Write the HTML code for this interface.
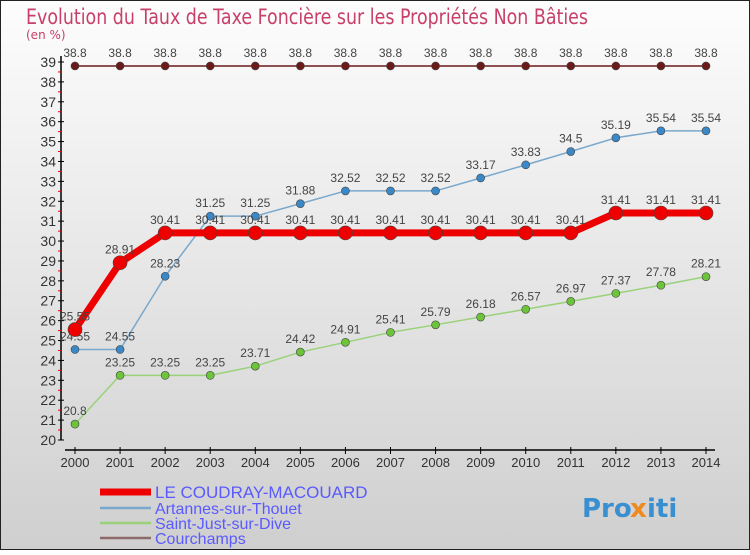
<!DOCTYPE html>
<html><head><meta charset="utf-8"><style>
body{margin:0}
svg text{font-family:"DejaVu Sans","Liberation Sans",sans-serif}
</style></head><body>
<svg id="c" width="750" height="550" xmlns="http://www.w3.org/2000/svg">
<defs><linearGradient id="bg" x1="0" y1="0" x2="0" y2="1"><stop offset="0" stop-color="#fdfdfd"/><stop offset="1" stop-color="#cfcfcf"/></linearGradient></defs>
<rect x="0.5" y="0.5" width="749" height="549" fill="url(#bg)" stroke="#222"/>
<text x="26" y="24" font-size="21" fill="#c8406a" textLength="562" lengthAdjust="spacingAndGlyphs">Evolution du Taux de Taxe Foncière sur les Propriétés Non Bâties</text>
<text x="26" y="39" font-size="12" fill="#c8406a">(en %)</text>
<g id="axes"></g>
<g id="series"></g>
<g style="font-family:'Liberation Sans',sans-serif">
<line x1="100" y1="492" x2="151" y2="492" stroke="#e00" stroke-width="7"/>
<text x="155" y="498" font-size="17" fill="#5a5aff" style="font-family:'Liberation Sans',sans-serif">LE COUDRAY-MACOUARD</text>
<line x1="100" y1="508" x2="151" y2="508" stroke="#7aa8cc" stroke-width="2.5"/>
<text x="155" y="514" font-size="16" fill="#5a5aff" style="font-family:'Liberation Sans',sans-serif">Artannes-sur-Thouet</text>
<line x1="100" y1="523" x2="151" y2="523" stroke="#99d27a" stroke-width="2.5"/>
<text x="155" y="529" font-size="16" fill="#5a5aff" style="font-family:'Liberation Sans',sans-serif">Saint-Just-sur-Dive</text>
<line x1="100" y1="538" x2="151" y2="538" stroke="#8e6a6a" stroke-width="2.5"/>
<text x="155" y="544" font-size="16" fill="#5a5aff" style="font-family:'Liberation Sans',sans-serif">Courchamps</text>
</g>
<g font-size="26" font-weight="bold">
<text x="582" y="517" fill="#3a8fd0">Pro</text><text x="630" y="517" fill="#f08a1c">x</text><text x="647" y="517" fill="#3a8fd0">iti</text>
</g>
</svg>
<script>
const years=[2000,2001,2002,2003,2004,2005,2006,2007,2008,2009,2010,2011,2012,2013,2014];
const coudray=[25.55,28.91,30.41,30.41,30.41,30.41,30.41,30.41,30.41,30.41,30.41,30.41,31.41,31.41,31.41];
const artannes=[24.55,24.55,28.23,31.25,31.25,31.88,32.52,32.52,32.52,33.17,33.83,34.5,35.19,35.54,35.54];
const saintjust=[20.8,23.25,23.25,23.25,23.71,24.42,24.91,25.41,25.79,26.18,26.57,26.97,27.37,27.78,28.21];
const courchamps=[38.8,38.8,38.8,38.8,38.8,38.8,38.8,38.8,38.8,38.8,38.8,38.8,38.8,38.8,38.8];
const yTicks=[20,21,22,23,24,25,26,27,28,29,30,31,32,33,34,35,36,37,38,39];
const NS="http://www.w3.org/2000/svg";
const X=i=>75+i*(631/14);
const Y=v=>440-(v-20)*(378/19);
function mk(t,a,p){const e=document.createElementNS(NS,t);for(const k in a)e.setAttribute(k,a[k]);p.appendChild(e);return e;}
const ax=document.getElementById('axes');
let l=mk('line',{x1:61,y1:56,x2:61,y2:440,stroke:'#000','stroke-width':1.5},ax);


l=mk('line',{x1:65,y1:450,x2:715,y2:450,stroke:'#000','stroke-width':1.5},ax);


yTicks.forEach(v=>{
 let t=mk('line',{x1:58,y1:Y(v),x2:64,y2:Y(v),stroke:'#000'},ax);
 
 
 if(v<39){let m=mk('line',{x1:58,y1:Y(v+0.5),x2:61,y2:Y(v+0.5),stroke:'#e00'},ax);
 
 }
 let s=mk('text',{x:56,y:Y(v)+5,'font-size':14,fill:'#333','text-anchor':'end',style:"font-family:'Liberation Sans',sans-serif"},ax);
 s.textContent=v;
 
 
});
years.forEach((yr,i)=>{
 let t=mk('line',{x1:X(i),y1:447,x2:X(i),y2:454,stroke:'#000'},ax);
 
 
 let s=mk('text',{x:X(i),y:467,'font-size':13,fill:'#333','text-anchor':'middle',style:"font-family:'Liberation Sans',sans-serif"},ax);
 s.textContent=yr;
 
 
});
const sg=document.getElementById('series');
function draw(data,name,color,fill,w,r){
 const g=mk('g',{},sg);
 
 
 const p=mk('polyline',{points:data.map((v,i)=>X(i)+','+Y(v)).join(' '),fill:'none',stroke:color,'stroke-width':w,'stroke-linejoin':'round'},g);
 
 
 data.forEach((v,i)=>{
  const c=mk('circle',{cx:X(i),cy:Y(v),r:r,fill:fill,stroke:'#444','stroke-width':0.6},g);
  
  
  const t=mk('text',{x:X(i),y:Y(v)-9,'font-size':12,fill:'#444','text-anchor':'middle',style:"font-family:'Liberation Sans',sans-serif"},g);
  t.textContent=v;
  
  
 });
}
draw(courchamps,'courchamps','#6b1a1a','#6b1a1a',1.5,4);
draw(saintjust,'saintjust','#99d27a','#6cc43a',1.5,4);
draw(artannes,'artannes','#7aa8cc','#3a88c8',1.5,4);
draw(coudray,'coudray','#e00','#e00',7,7);
</script>
</body></html>
